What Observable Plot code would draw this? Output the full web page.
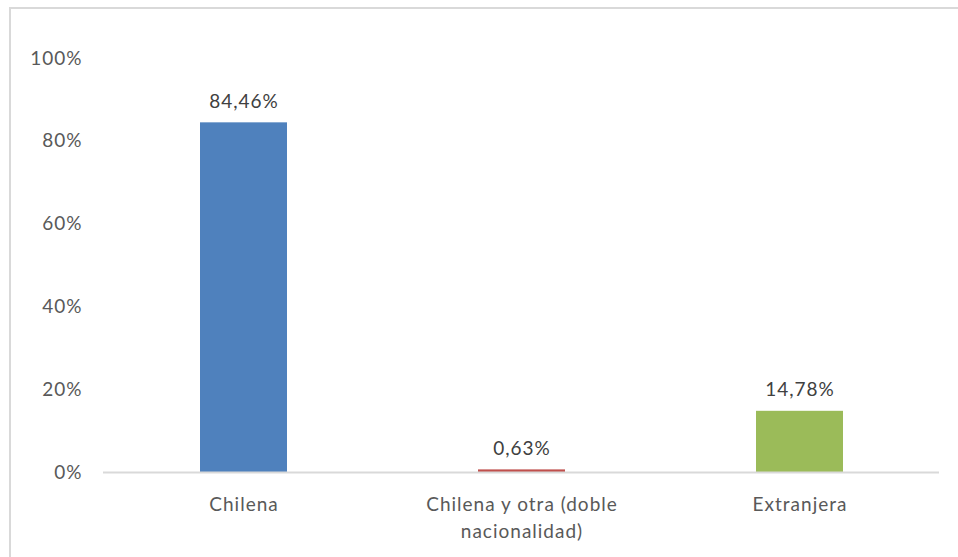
<!DOCTYPE html>
<html>
<head>
<meta charset="utf-8">
<script src="https://cdn.jsdelivr.net/npm/d3@7"></script>
<script src="https://cdn.jsdelivr.net/npm/@observablehq/plot@0.6"></script>
<style>
  html, body { margin: 0; padding: 0; background: #fff; }
  #wrap { position: relative; width: 958px; height: 557px; overflow: hidden; }
  #frame { position: absolute; left: 9px; top: 7px; width: 960px; height: 560px;
           border-top: 2px solid #d9d9d9; border-left: 2px solid #d9d9d9; box-sizing: border-box; }
  #chart { position: absolute; left: 0; top: 0; }
  #chart text { letter-spacing: 1px; }
</style>
</head>
<body>
<div id="wrap"><div id="frame"></div><div id="chart"></div></div>
<script>
const categories = ["Chilena", "Chilena y otra (doble\nnacionalidad)", "Extranjera"];
const values = [84.46, 0.63, 14.78];
const colors = ["#4F81BD", "#C0504D", "#9BBB59"];
const yTicks = [0, 20, 40, 60, 80, 100];

const data = categories.map((c, i) => ({cat: c, value: values[i], color: colors[i]}));
const es = d3.formatLocale({decimal: ",", thousands: ".", grouping: [3], currency: ["", "€"]});
const fmt = es.format(".2f");

const plot = Plot.plot({
  width: 958,
  height: 557,
  marginLeft: 103,
  marginRight: 19,
  marginTop: 58,
  marginBottom: 85,
  style: {fontFamily: "Lato, 'Open Sans', sans-serif", fontSize: "19px", color: "#595959", background: "transparent"},
  x: {domain: categories, paddingInner: 0.688, paddingOuter: 0.344, label: null},
  y: {domain: [0, 100], label: null},
  marks: [
    Plot.axisY({ticks: yTicks, tickFormat: d => d + "%", tickSize: 0, tickPadding: 21, fontSize: 19, fill: "#595959"}),
    Plot.axisX({tickSize: 0, tickPadding: 19, fontSize: 19, fill: "#595959", lineHeight: 1.42}),
    Plot.barY(data, {x: "cat", y: "value", fill: "color"}),
    Plot.ruleY([0], {stroke: "#d9d9d9", strokeWidth: 2}),
    Plot.text(data, {x: "cat", y: "value", text: d => fmt(d.value) + "%", lineAnchor: "bottom", dy: -15, fontSize: 19, fill: "#404040"})
  ]
});
document.getElementById("chart").appendChild(plot);
</script>
</body>
</html>
